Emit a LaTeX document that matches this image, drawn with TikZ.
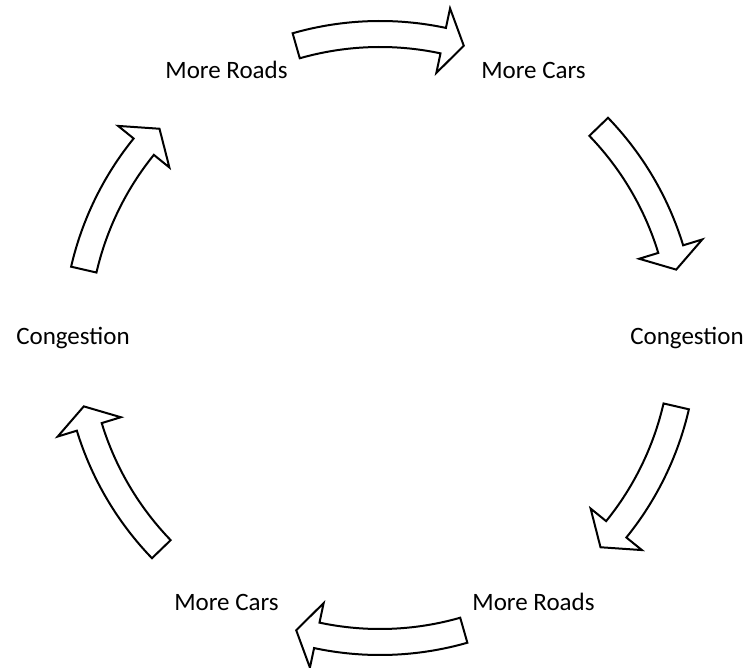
\documentclass[tikz,border=0pt]{standalone}
\usepackage{fontspec}
\setmainfont{Carlito}
\usetikzlibrary{positioning}
\tikzset{
  lbl/.style={font=\fontsize{12.5}{15}\selectfont, text height=0.644em, text depth=0pt, inner sep=0pt},
  cyclearrow/.style={draw=black, fill=white, line width=1pt, line join=miter},
}
\begin{document}
\begin{tikzpicture}[x=0.5pt,y=0.5pt]
  \useasboundingbox[fill=white] (-380,-330) rectangle (369,338);
  % labels round the circle
  \node[lbl] (roadsT) at (120:307) {More Roads};
  \node[lbl] (carsT) at (60:307) {More Cars};
  \node[lbl] (congR) at (0:307) {Congestion};
  \node[lbl] (roadsB) at (300:307) {More Roads};
  \node[lbl] (carsB) at (240:307) {More Cars};
  \node[lbl] (congL) at (180:307) {Congestion};
  % block arrows: tail / head base / tip angles
  \foreach \t/\h/\p in {106/78/74, 44/17/13, -13/-39/-43.5, 286/258/254, 224/197/193, 167/141/136.5}
    \draw[cyclearrow] (\t:317) arc[start angle=\t, end angle=\h, radius=317] -- (\h:337) -- (\p:304)
      -- (\h:271) -- (\h:291) arc[start angle=\h, end angle=\t, radius=291] -- cycle;
\end{tikzpicture}
\end{document}
